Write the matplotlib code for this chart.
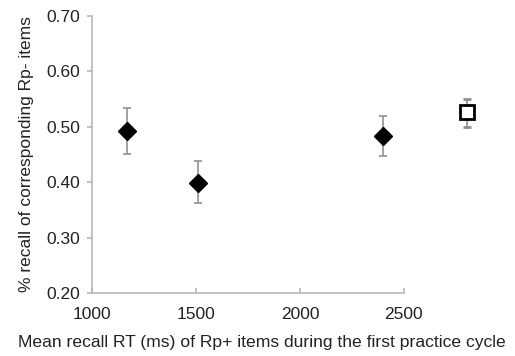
import matplotlib
matplotlib.use("Agg")
import matplotlib.pyplot as plt

plt.rcParams['font.family'] = ['Liberation Sans', 'DejaVu Sans']

# Data
rt_filled = [1168, 1510, 2399]
recall_filled = [0.492, 0.399, 0.483]
err_low_filled = [0.041, 0.037, 0.036]
err_high_filled = [0.042, 0.039, 0.037]

rt_open = [2803]
recall_open = [0.526]
err_low_open = [0.026]
err_high_open = [0.024]

xticks = [1000, 1500, 2000, 2500]
yticks = [0.20, 0.30, 0.40, 0.50, 0.60, 0.70]

fig = plt.figure(figsize=(5.15, 3.56), dpi=100)
ax = fig.add_axes([92/515, 1-293/356, (487-92)/515, (293-16)/356])

gray = '#b8b8b8'
ax.errorbar(rt_filled, recall_filled, yerr=[err_low_filled, err_high_filled],
            fmt='D', color='black', ms=9, ecolor='#909090', elinewidth=1.2,
            capsize=3, capthick=1.2, zorder=3)
ax.errorbar(rt_open, recall_open, yerr=[err_low_open, err_high_open],
            fmt='s', mfc='white', mec='black', mew=2, ms=10, ecolor='#909090',
            elinewidth=1.2, capsize=3, capthick=1.2, zorder=3)

ax.set_xlim(1000, 2900)
ax.set_ylim(0.20, 0.70)
ax.set_xticks(xticks)
ax.set_yticks(yticks)
ax.set_yticklabels([f"{v:.2f}" for v in yticks])
ax.spines['top'].set_visible(False)
ax.spines['right'].set_visible(False)
ax.spines['bottom'].set_bounds(1000, 2500)
for s in ['left', 'bottom']:
    ax.spines[s].set_color(gray)
    ax.spines[s].set_linewidth(1.2)
ax.tick_params(axis='both', colors=gray, labelcolor='#222222', labelsize=12.5, length=3.5, width=1.2)
ax.tick_params(axis='x', direction='in', pad=10)
ax.tick_params(axis='y', direction='out', pad=5)
fig.text(262/515, 1-343/356, "Mean recall RT (ms) of Rp+ items during the first practice cycle",
         fontsize=12.6, color='#222222', ha='center', va='center')
ax.set_ylabel("% recall of corresponding Rp- items", fontsize=12.5, color='#222222', labelpad=9)

fig.savefig("out.png", dpi=100)
